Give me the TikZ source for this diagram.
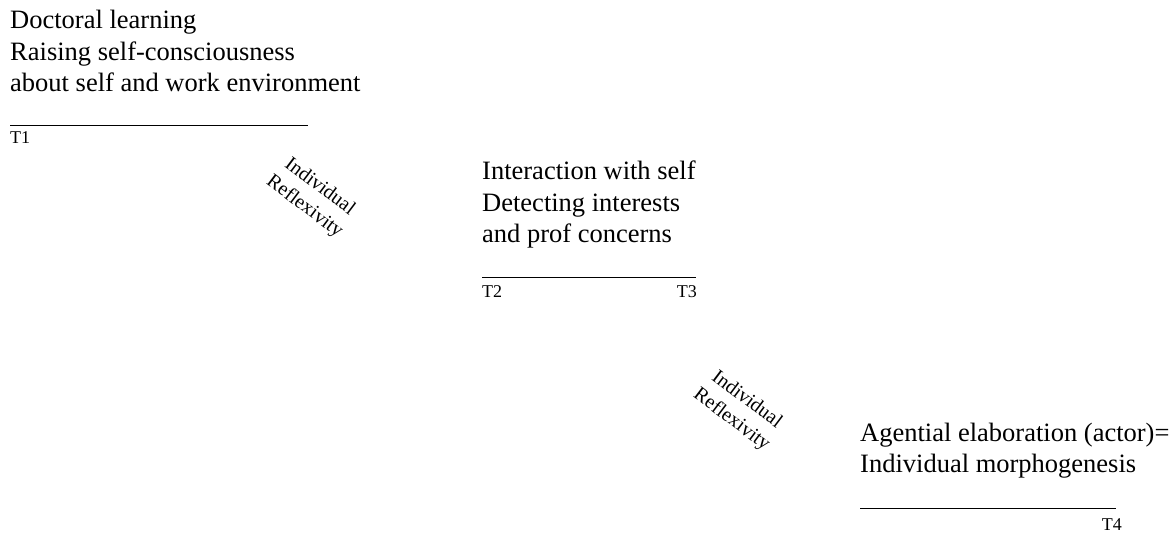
\documentclass[tikz,border=0pt]{standalone}
\usepackage{fontspec}
\setmainfont{Liberation Serif}

\begin{document}
\begin{tikzpicture}[x=1pt,y=-1pt,
    blocktext/.style={anchor=base west,inner sep=0pt,align=left,font=\fontsize{26.5}{31.5}\selectfont},
    tlabel/.style={inner sep=0pt,font=\fontsize{18}{20}\selectfont},
    reflex/.style={inner sep=0pt,align=center,rotate=-37,font=\fontsize{20}{25}\selectfont},
    rule/.style={line width=0.7pt}]
            \useasboundingbox (0,0) rectangle (1176,534);
            % stage one
            \node[blocktext] (learn) at (10,92) {Doctoral learning\\Raising self-consciousness\\about self and work environment};
            \coordinate (l1a) at (10,125);
            \coordinate (l1b) at (308,125);
            \draw[rule] (l1a)--(l1b);
            \node[tlabel,anchor=base west] (t1) at (10,144) {T1};
            \node[reflex] (refl1) at (312,197) {Individual\\Reflexivity};
            % stage two
            \node[blocktext] (inter) at (482,243) {Interaction with self\\Detecting interests\\and prof concerns};
            \coordinate (l2a) at (482,277);
            \coordinate (l2b) at (696,277);
            \draw[rule] (l2a)--(l2b);
            \node[tlabel,anchor=base west] (t2) at (482,298) {T2};
            \node[tlabel,anchor=base east] (t3) at (697,298) {T3};
            \node[reflex] (refl2) at (739,410) {Individual\\Reflexivity};
            % stage three
            \node[blocktext] (agent) at (860,473) {Agential elaboration (actor)=\\Individual morphogenesis};
            \coordinate (l3a) at (860,508);
            \coordinate (l3b) at (1116,508);
            \draw[rule] (l3a)--(l3b);
            \node[tlabel,anchor=base east] (t4) at (1122,530) {T4};
        \end{tikzpicture}
\end{document}
